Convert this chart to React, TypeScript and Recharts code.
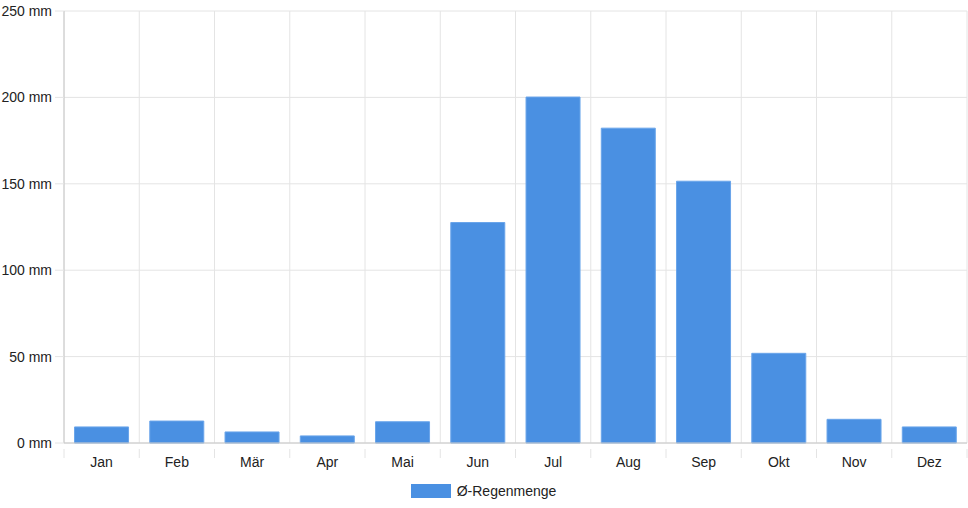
import React from "react";
import { BarChart, Bar, XAxis, YAxis, CartesianGrid, Legend } from "recharts";

const months = ["Jan", "Feb", "Mär", "Apr", "Mai", "Jun", "Jul", "Aug", "Sep", "Okt", "Nov", "Dez"];
const rain = [9.3, 12.7, 6.4, 4.1, 12.3, 127.6, 200.2, 182.2, 151.5, 51.9, 13.7, 9.3];
const yTicks = [0, 50, 100, 150, 200, 250];
const seriesName = "Ø-Regenmenge";

const data = months.map((m, i) => ({ month: m, rain: rain[i] }));
const boundaries = [...months.map((_, i) => i), months.length];

const FONT = "'Liberation Sans', Arial, Helvetica, sans-serif";
const GRID = "#e4e4e4";

const LegendContent = () => (
  <div style={{ display: "flex", justifyContent: "center", alignItems: "center", fontFamily: FONT, fontSize: 14, color: "#222", height: 14 }}>
    <span style={{ display: "inline-block", width: 40, height: 14, background: "#4a90e2", marginRight: 6 }} />
    <span>{seriesName}</span>
  </div>
);

// category label plus the tick marks at the band edges
const MonthTick = (props: any) => {
  const { x, y, payload, index } = props;
  const half = payload?.offset ?? 0;
  const top = y - 8;
  return (
    <g>
      <line x1={x - half} x2={x - half} y1={top} y2={top + 9} stroke={GRID} />
      {index === months.length - 1 && (
        <line x1={x + half} x2={x + half} y1={top} y2={top + 9} stroke={GRID} />
      )}
      <text x={x} y={y} dy={10} textAnchor="middle" fill="#222" fontSize={14} fontFamily={FONT}>
        {payload.value}
      </text>
    </g>
  );
};

export default function App() {
  return (
    <div style={{ position: "absolute", left: 0, top: 0 }}>
      <BarChart
        width={968}
        height={508}
        data={data}
        margin={{ top: 11, right: 1, left: 0, bottom: 10 }}
        barCategoryGap="14%"
      >
        <CartesianGrid
          stroke={GRID}
          vertical
          horizontal
          verticalCoordinatesGenerator={({ offset }: any) =>
            boundaries.map((b) => offset.left + (offset.width * b) / months.length)
          }
        />
        <XAxis
          dataKey="month"
          tickLine={false}
          axisLine={{ stroke: "#c8c8c8" }}
          tick={<MonthTick />}
          tickMargin={8}
          height={41}
          interval={0}
        />
        <YAxis
          domain={[0, 250]}
          ticks={yTicks}
          width={64}
          tickSize={9}
          tickLine={{ stroke: GRID }}
          axisLine={{ stroke: "#c8c8c8" }}
          tick={{ fill: "#222", fontSize: 14, fontFamily: FONT }}
          tickFormatter={(v: number) => `${v} mm`}
          tickMargin={3}
        />
        <Legend verticalAlign="bottom" height={14} content={<LegendContent />} />
        <Bar dataKey="rain" name={seriesName} fill="#4a90e2" stroke="#6aa5ea" strokeWidth={1} isAnimationActive={false} />
      </BarChart>
    </div>
  );
}
